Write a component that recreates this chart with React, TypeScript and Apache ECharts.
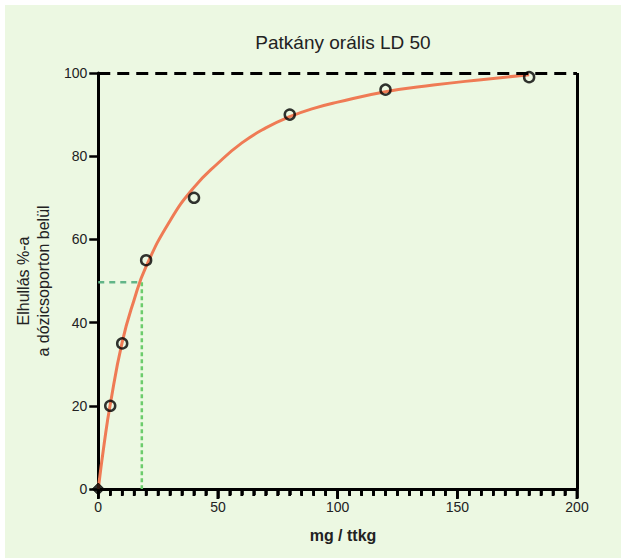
import React, { useEffect, useRef } from "react";
import * as echarts from "echarts";

const doseValues = [0, 5, 10, 20, 40, 80, 120, 180];
const mortalityValues = [0, 20, 35, 55, 70, 90, 96, 99];

const curveDose = [0, 2.5, 5, 10, 15, 20, 30, 40, 50, 60, 70, 80, 90, 100, 120, 140, 160, 180];
const curveMortality = [0, 11, 20.3, 35.3, 45.5, 53.5, 64.5, 72.5, 78.3, 83.2, 86.8, 89.5, 91.5, 93, 95.5, 97.1, 98.4, 99.6];

const ld50Dose = 18.2;
const ld50Level = 49.7;
const topPlateau = 100;
const xMax = 200;

const xTicks = [0, 50, 100, 150, 200];
const xAllTicks = [0, 5, 10, 15, 20, 25, 30, 35, 40, 45, 50, 55, 60, 65, 70, 75, 80, 85, 90, 95, 100,
  105, 110, 115, 120, 125, 130, 135, 140, 145, 150, 155, 160, 165, 170, 175, 180, 185, 190, 195, 200];
const yTicks = [0, 20, 40, 60, 80, 100];

export default function App() {
  const ref = useRef<HTMLDivElement>(null);
  useEffect(() => {
    if (!ref.current) return;
    const chart = echarts.init(ref.current, null, { renderer: "svg" });
    const font = "'Liberation Sans', Arial, sans-serif";
    chart.setOption({
      animation: false,
      backgroundColor: "#ecf8e2",
      title: [
        {
          text: "Patkány orális LD 50",
          left: 338 - 5,
          top: 23,
          textAlign: "center",
          textStyle: { fontFamily: font, fontSize: 19, fontWeight: "normal", color: "#222" },
        },
        {
          text: "mg / ttkg",
          left: 338 - 5,
          top: 517,
          textAlign: "center",
          textStyle: { fontFamily: font, fontSize: 16, fontWeight: "bold", color: "#222" },
        },
      ],
      grid: { left: 93, right: 44, top: 68, bottom: 69 },
      xAxis: {
        type: "value",
        min: xTicks[0],
        max: xTicks[xTicks.length - 1],
        interval: 50,
        axisLine: { show: true, onZero: false, lineStyle: { color: "#000", width: 3 } },
        axisTick: { show: true, length: 9, lineStyle: { color: "#000", width: 2.5 } },
        minorTick: { show: true, splitNumber: 10, length: 6, lineStyle: { color: "#000", width: 2.5 } },
        splitLine: { show: false },
        axisLabel: { fontFamily: font, fontSize: 14, color: "#222", margin: 11 },
      },
      yAxis: {
        type: "value",
        min: yTicks[0],
        max: yTicks[yTicks.length - 1],
        interval: 20,
        axisLine: { show: true, onZero: false, lineStyle: { color: "#000", width: 3 } },
        axisTick: { show: true, length: 9, lineStyle: { color: "#000", width: 2.5 } },
        splitLine: { show: false },
        axisLabel: { fontFamily: font, fontSize: 14, color: "#222", margin: 11 },
        name: "Elhullás %-a\na dózicsoporton belül",
        nameLocation: "middle",
        nameRotate: 90,
        nameGap: 15,
        nameTextStyle: { fontFamily: font, fontSize: 16, color: "#222", lineHeight: 20 },
      },
      series: [
        {
          type: "custom",
          data: xAllTicks.map((d) => [d, 0]),
          encode: { x: 0, y: 1 },
          clip: false,
          silent: true,
          z: 20,
          renderItem: (params: any, api: any) => {
            const v = api.value(0);
            const p = api.coord([v, 0]);
            const len = v % 50 === 0 ? 9 : 6;
            return {
              type: "line",
              z2: 100,
              shape: { x1: p[0], y1: p[1] + 1, x2: p[0], y2: p[1] + 1 + len },
              style: { stroke: "#000", lineWidth: 2.5 },
            };
          },
        },
        {
          type: "line",
          data: [[0, ld50Level], [ld50Dose, ld50Level]],
          showSymbol: false,
          symbol: "none",
          lineStyle: { color: "#62b588", width: 2.5, type: [6, 5] },
          z: 2,
        },
        {
          type: "line",
          data: [[ld50Dose, ld50Level], [ld50Dose, 0]],
          showSymbol: false,
          symbol: "none",
          lineStyle: { color: "#6ccc6c", width: 2.5, type: [4, 3] },
          z: 2,
        },
        {
          type: "line",
          data: curveDose.map((d, i) => [d, curveMortality[i]]),
          smooth: 0.5,
          showSymbol: false,
          symbol: "none",
          lineStyle: { color: "#ef7b55", width: 3 },
          z: 3,
          markLine: {
            silent: true,
            symbol: "none",
            label: { show: false },
            data: [
              { yAxis: topPlateau, lineStyle: { color: "#000", width: 3, type: [12, 7] } },
              { xAxis: xMax, lineStyle: { color: "#000", width: 3, type: "solid" } },
            ],
          },
        },
        {
          type: "scatter",
          data: doseValues.map((d, i) =>
            i === 0
              ? {
                  value: [d, mortalityValues[i]],
                  symbol: "diamond",
                  symbolSize: 12,
                  itemStyle: { color: "#000", borderColor: "#000", borderWidth: 1 },
                }
              : [d, mortalityValues[i]]
          ),
          symbol: "circle",
          symbolSize: 10,
          clip: false,
          itemStyle: { color: "rgba(0,0,0,0)", borderColor: "#000", borderWidth: 2.5 },
          z: 5,
        },
      ],
    });
    try {
      const tickElements = xAllTicks.map((v) => {
        const p = chart.convertToPixel("grid", [v, 0]) as number[];
        const len = v % 50 === 0 ? 9 : 6;
        return {
          type: "line",
          z: 100,
          silent: true,
          shape: { x1: p[0], y1: p[1] + 1, x2: p[0], y2: p[1] + 1 + len },
          style: { stroke: "#000", lineWidth: 2.5 },
        };
      });
      chart.setOption({ graphic: tickElements });
    } catch (e) {
      // ignore
    }
    return () => chart.dispose();
  }, []);
  return (
    <div style={{ position: "fixed", left: 0, top: 0, width: 621, height: 558, background: "#fff" }}>
      <div ref={ref} style={{ position: "absolute", left: 5, top: 5, width: 616, height: 553 }} />
    </div>
  );
}
